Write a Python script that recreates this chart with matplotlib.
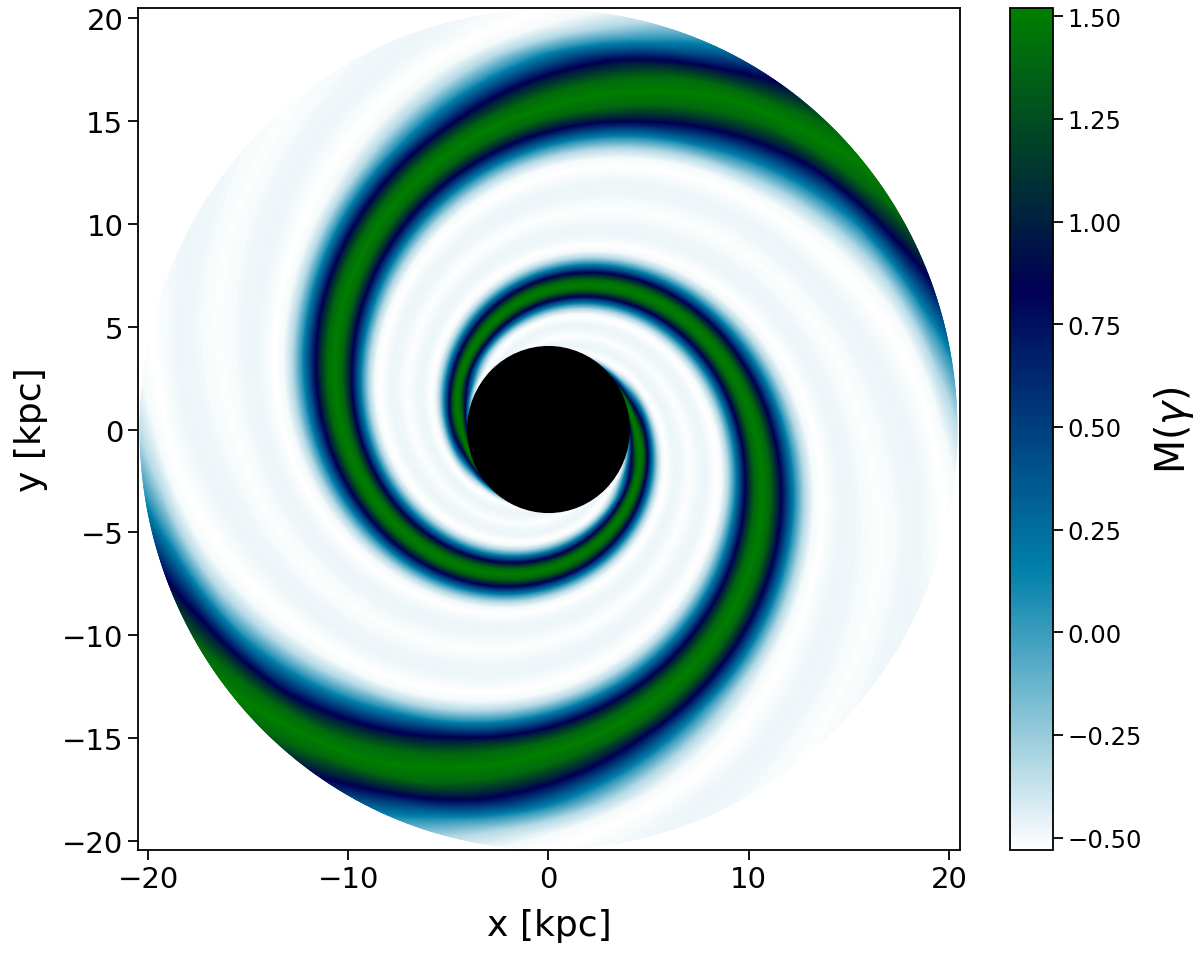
import numpy as np
import matplotlib
matplotlib.use("Agg")
import matplotlib.pyplot as plt
from matplotlib.patches import Circle

# Arm ridge: unwrapped angle (deg) and radius (kpc)
ridge_angle = [20, 0, -15, -43, -90, -135, -180, -225, -270, -298, -314, -330, -350]
ridge_radius = [4.05, 4.35, 4.75, 5.4, 6.8, 8.4, 10.3, 12.8, 15.7, 18.3, 19.6, 21.4, 24.0]
# Cross-arm profile: phase (deg) and M
profile_phase = [0, 15, 30, 45, 60, 75, 90, 105, 120, 135, 150, 165, 180]
profile_value = [1.52, 1.40, 1.00, 0.48, 0.02, -0.33, -0.50, -0.53, -0.50, -0.48, -0.485, -0.505, -0.52]
r_inner = 4.03
r_outer = 20.4
cbar_ticks = [-0.50, -0.25, 0.00, 0.25, 0.50, 0.75, 1.00, 1.25, 1.50]
axis_ticks = [-20, -10, 0, 10, 20]
y_ticks = [-20, -15, -10, -5, 0, 5, 10, 15, 20]

fig = plt.figure(figsize=(12, 9.54), dpi=100)
ax = fig.add_axes([138/1200, 1-851/954, (960-138)/1200, (851-9)/954])
cax = fig.add_axes([1010/1200, 1-851/954, (1053-1010)/1200, (851-9)/954])

r = np.linspace(r_inner, r_outer, 500)
th = np.radians(np.linspace(-180, 180, 1441))
R, T = np.meshgrid(r, th)
ridge_th = np.interp(np.log(R), np.log(ridge_radius), ridge_angle)
phase = (2 * (np.degrees(T) - ridge_th)) % 360
phase = np.minimum(phase, 360 - phase)
M = np.interp(phase, profile_phase, profile_value)

mesh = ax.pcolormesh(R*np.cos(T), R*np.sin(T), M, cmap="ocean_r", vmin=-0.53, vmax=1.52,
                     shading="gouraud", rasterized=True)
ax.add_patch(Circle((0, 0), r_inner, color="black", zorder=3))
ax.set_xlim(-20.5, 20.55)
ax.set_ylim(-20.45, 20.5)
ax.set_xticks(axis_ticks)
ax.set_yticks(y_ticks)
ax.tick_params(labelsize=21, length=7, width=1.3)
ax.set_xlabel("x [kpc]", fontsize=26, labelpad=11)
ax.set_ylabel("y [kpc]", fontsize=26, labelpad=10)
for s in ax.spines.values():
    s.set_linewidth(1.3)

cb = fig.colorbar(mesh, cax=cax)
cb.set_ticks(cbar_ticks)
cb.ax.tick_params(labelsize=17.5, length=7, width=1.3)
cb.outline.set_linewidth(1.3)
cb.set_label(r"M($\gamma$)", fontsize=28.5, labelpad=7)

fig.savefig("out.png", dpi=100)
